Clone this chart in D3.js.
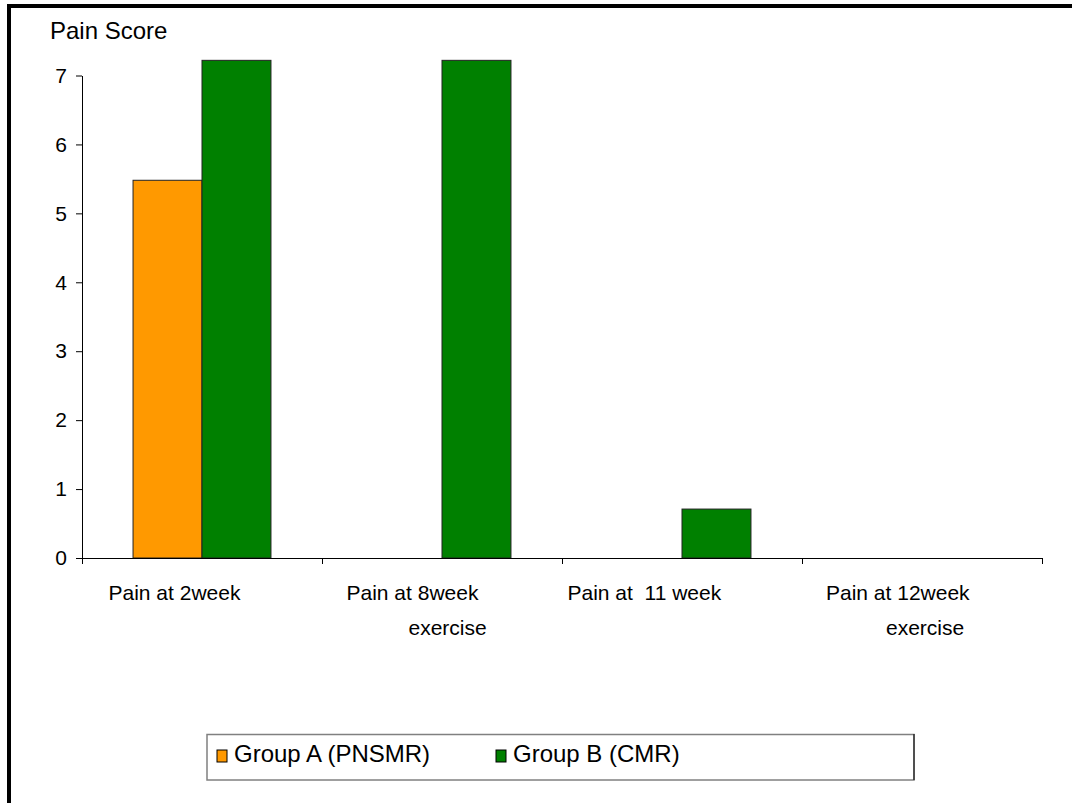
<!DOCTYPE html>
<html>
<head>
<meta charset="utf-8">
<script src="https://cdn.jsdelivr.net/npm/d3@7"></script>
<style>
  html, body { margin: 0; padding: 0; background: #fff; }
  svg { display: block; font-family: "Liberation Sans", Arial, sans-serif; }
  text { white-space: pre; }
</style>
</head>
<body>
<svg id="chart" width="1072" height="803"></svg>
<script>
// ---- data ----
const categories = ["Pain at 2week", "Pain at 8week exercise", "Pain at  11 week", "Pain at 12week exercise"];
const categoryLabelLines = [
  ["Pain at 2week"],
  ["Pain at 8week", "exercise"],
  ["Pain at  11 week"],
  ["Pain at 12week", "exercise"]
];
const seriesNames = ["Group A (PNSMR)", "Group B (CMR)"];
const groupA = [5.48, 0, 0, 0];
const groupB = [7.22, 7.22, 0.71, 0];
const yTicks = [0, 1, 2, 3, 4, 5, 6, 7];
const yTitle = "Pain Score";

// ---- layout / style ----
const colors = { "Group A (PNSMR)": "#FF9900", "Group B (CMR)": "#008000" };
const labelOffsets = [ // [line1 start, line2 start] relative to band start (layout only)
  [26.5, null], [24.5, 86.5], [5.5, null], [24, 84]
];
const font = '"Liberation Sans", Arial, sans-serif';

const svg = d3.select("#chart");

// outer frame (only top & left visible in the crop)
svg.append("rect")
  .attr("x", 9).attr("y", 6).attr("width", 2000).attr("height", 2000)
  .attr("fill", "none").attr("stroke", "#000").attr("stroke-width", 4);

const x0 = d3.scaleBand().domain(categories).range([82, 1042]).paddingInner(0).paddingOuter(0);
const x1 = d3.scaleBand().domain(seriesNames).range([0, x0.bandwidth()]).paddingInner(0).paddingOuter(0.74);
const y = d3.scaleLinear().domain([0, 7]).range([558, 75.5]);

const rows = categories.map((c, i) => ({ cat: c, vals: [
  { name: seriesNames[0], v: groupA[i] },
  { name: seriesNames[1], v: groupB[i] }
]}));

// bars
const g = svg.append("g");
g.selectAll("g.cat").data(rows).join("g")
  .attr("class", "cat")
  .attr("transform", d => `translate(${x0(d.cat)},0)`)
  .selectAll("rect").data(d => d.vals.filter(v => v.v > 0)).join("rect")
  .attr("x", d => x1(d.name))
  .attr("y", d => y(d.v))
  .attr("width", x1.bandwidth())
  .attr("height", d => y(0) - y(d.v))
  .attr("fill", d => colors[d.name])
  .attr("stroke", "#222")
  .attr("stroke-width", 1);

// y axis
const yAxis = svg.append("g")
  .attr("transform", "translate(82,0)")
  .call(d3.axisLeft(y).tickValues(yTicks).tickFormat(d3.format("d")).tickSize(6).tickSizeOuter(0).tickPadding(9));
yAxis.selectAll("text").attr("font-size", 21).attr("font-family", font).attr("fill", "#000");
yAxis.selectAll("line,path").attr("stroke", "#000");

// x axis (ticks at category boundaries)
const xb = d3.scaleLinear().domain([0, categories.length]).range(x0.range());
const xAxis = svg.append("g")
  .attr("transform", `translate(0,${y(0)})`)
  .call(d3.axisBottom(xb).tickValues(d3.range(categories.length + 1)).tickFormat("").tickSize(6).tickSizeOuter(0));
xAxis.selectAll("line,path").attr("stroke", "#000");

// category labels
categoryLabelLines.forEach((lines, i) => {
  lines.forEach((ln, j) => {
    svg.append("text")
      .attr("x", x0(categories[i]) + labelOffsets[i][j])
      .attr("y", 600 + j * 35)
      .attr("font-size", 21)
      .attr("font-family", font)
      .attr("fill", "#000")
      .text(ln);
  });
});

// y title
svg.append("text")
  .attr("x", 50).attr("y", 39)
  .attr("font-size", 24).attr("font-family", font).attr("fill", "#000")
  .text(yTitle);

// legend
const leg = svg.append("g");
leg.append("rect")
  .attr("x", 207).attr("y", 734.5).attr("width", 707).attr("height", 45.5)
  .attr("fill", "#fff").attr("stroke", "#808080").attr("stroke-width", 1.5);
leg.append("line")
  .attr("x1", 914).attr("x2", 914).attr("y1", 734).attr("y2", 780)
  .attr("stroke", "#000").attr("stroke-width", 1);
const legX = [217, 496];
seriesNames.forEach((s, i) => {
  leg.append("rect")
    .attr("x", legX[i]).attr("y", 750).attr("width", 10).attr("height", 12)
    .attr("fill", colors[s]).attr("stroke", "#000").attr("stroke-width", 1);
  leg.append("text")
    .attr("x", legX[i] + 17).attr("y", 762)
    .attr("font-size", 24).attr("font-family", font).attr("fill", "#000")
    .text(s);
});
</script>
</body>
</html>
